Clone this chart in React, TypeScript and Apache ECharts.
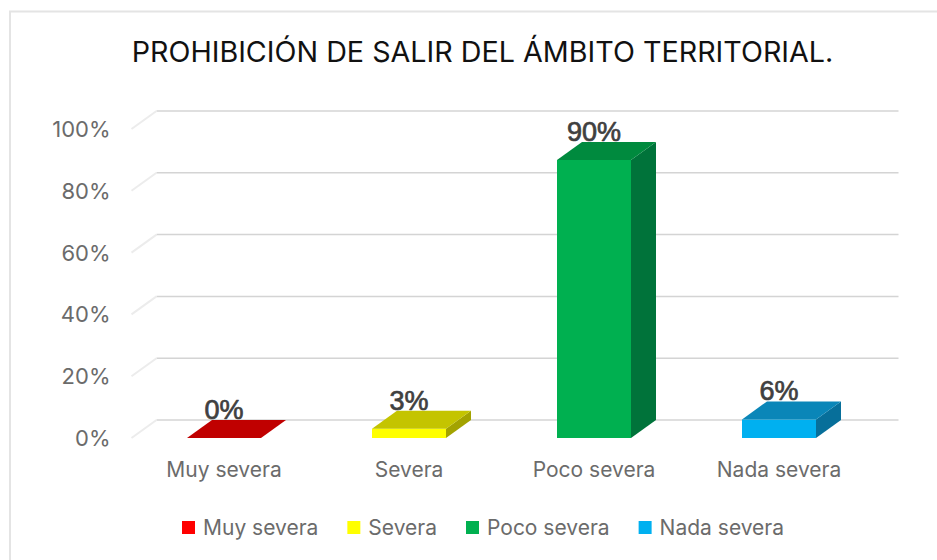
import React, { useEffect, useRef } from "react";
import * as echarts from "echarts";

const titleText = "PROHIBICIÓN DE SALIR DEL ÁMBITO TERRITORIAL.";
const categories = ["Muy severa", "Severa", "Poco severa", "Nada severa"];
const values = [0, 3, 90, 6];
const dataLabels = ["0%", "3%", "90%", "6%"];
const tickValues = [0, 20, 40, 60, 80, 100];
const frontColors = ["#ff0000", "#ffff00", "#00b050", "#00b0f0"];
const topColors = ["#c00000", "#c4c400", "#008a3e", "#0a86b8"];
const sideColors = ["#a00000", "#a3a300", "#00733a", "#076f9a"];

const DX = 25;
const DY = -18;
const BAR_W = 74;
const FONT = "Inter, 'Noto Sans', sans-serif";

function poly(points: number[][], fill: string) {
  return { type: "polygon", shape: { points }, style: { fill }, silent: true };
}

function renderWalls(params: any, api: any) {
  const v = api.value(0);
  const y = api.coord([0, v])[1];
  const cs = params.coordSys;
  const x0 = cs.x;
  const x1 = cs.x + cs.width;
  return {
    type: "group",
    children: [
      {
        type: "line",
        shape: { x1: x0 + DX, y1: y + DY, x2: x1 + DX + 2, y2: y + DY },
        style: { stroke: "#d4d4d4", lineWidth: 1.5 },
        silent: true,
      },
      {
        type: "line",
        shape: { x1: x0, y1: y, x2: x0 + DX, y2: y + DY },
        style: { stroke: "#ececec", lineWidth: 2 },
        silent: true,
      },
    ],
  };
}

function makeRenderBar(i: number) {
  return (_params: any, api: any) => {
    const base = api.coord([i, 0]);
    const top = api.coord([i, api.value(1)]);
    const l = base[0] - BAR_W / 2;
    const r = base[0] + BAR_W / 2;
    const children: any[] = [];
    if (base[1] - top[1] > 0.5) {
      children.push(
        poly([[l, top[1]], [r, top[1]], [r, base[1]], [l, base[1]]], frontColors[i]),
        poly(
          [[r, top[1]], [r + DX, top[1] + DY], [r + DX, base[1] + DY], [r, base[1]]],
          sideColors[i],
        ),
      );
    }
    children.push(
      poly(
        [[l, top[1]], [r, top[1]], [r + DX, top[1] + DY], [l + DX, top[1] + DY]],
        topColors[i],
      ),
      {
        type: "text",
        x: base[0],
        y: top[1] - 28,
        style: {
          text: dataLabels[i],
          fill: "#404040",
          stroke: "#404040",
          lineWidth: 0.7,
          font: `400 27px 'Liberation Sans', sans-serif`,
          align: "center",
          verticalAlign: "middle",
        },
        silent: true,
      },
    );
    return { type: "group", children };
  };
}

export default function App() {
  const ref = useRef<HTMLDivElement>(null);
  useEffect(() => {
    document.body.style.margin = "0";
    const chart = echarts.init(ref.current!, undefined, { renderer: "svg" });
    chart.setOption({
      animation: false,
      backgroundColor: "#ffffff",
      title: {
        text: titleText,
        left: 477.5,
        top: 32,
        textAlign: "center",
        textStyle: { fontFamily: FONT, fontSize: 28.7, fontWeight: 400, color: "#111111" },
      },
      graphic: [
        {
          type: "rect",
          shape: { x: 10, y: 11.5, width: 1000, height: 600 },
          style: { fill: "none", stroke: "#e4e4e4", lineWidth: 2 },
          silent: true,
          z: -1,
        },
      ],
      grid: { left: 131.5, top: 129, width: 740, height: 309 },
      legend: {
        left: 177,
        top: 512,
        itemWidth: 13,
        itemHeight: 13,
        itemGap: 29,
        icon: "rect",
        data: categories,
        textStyle: { fontFamily: FONT, fontSize: 21, color: "#6b6b6b", padding: [0, 0, 0, 3] },
      },
      xAxis: {
        type: "category",
        data: categories,
        axisLine: { show: false },
        axisTick: { show: false },
        axisLabel: { fontFamily: FONT, fontSize: 21, color: "#6b6b6b", margin: 21 },
      },
      yAxis: {
        type: "value",
        min: 0,
        max: 100,
        interval: 20,
        splitLine: { show: false },
        axisLine: { show: false },
        axisTick: { show: false },
        axisLabel: {
          fontFamily: FONT,
          fontSize: 22,
          color: "#6b6b6b",
          margin: 21,
          padding: [9, 0, 0, 0],
          formatter: "{value}%",
        },
      },
      series: [
        {
          type: "custom",
          name: "walls",
          data: tickValues.map((v) => [v]),
          encode: { y: 0 },
          renderItem: renderWalls,
          silent: true,
          z: 1,
        },
        ...categories.map((name, i) => ({
          type: "custom",
          name,
          data: [[i, values[i]]],
          encode: { x: 0, y: 1 },
          itemStyle: { color: frontColors[i] },
          renderItem: makeRenderBar(i),
          z: 2,
        })),
      ],
    });
    return () => chart.dispose();
  }, []);
  return <div ref={ref} style={{ width: 937, height: 560 }} />;
}
